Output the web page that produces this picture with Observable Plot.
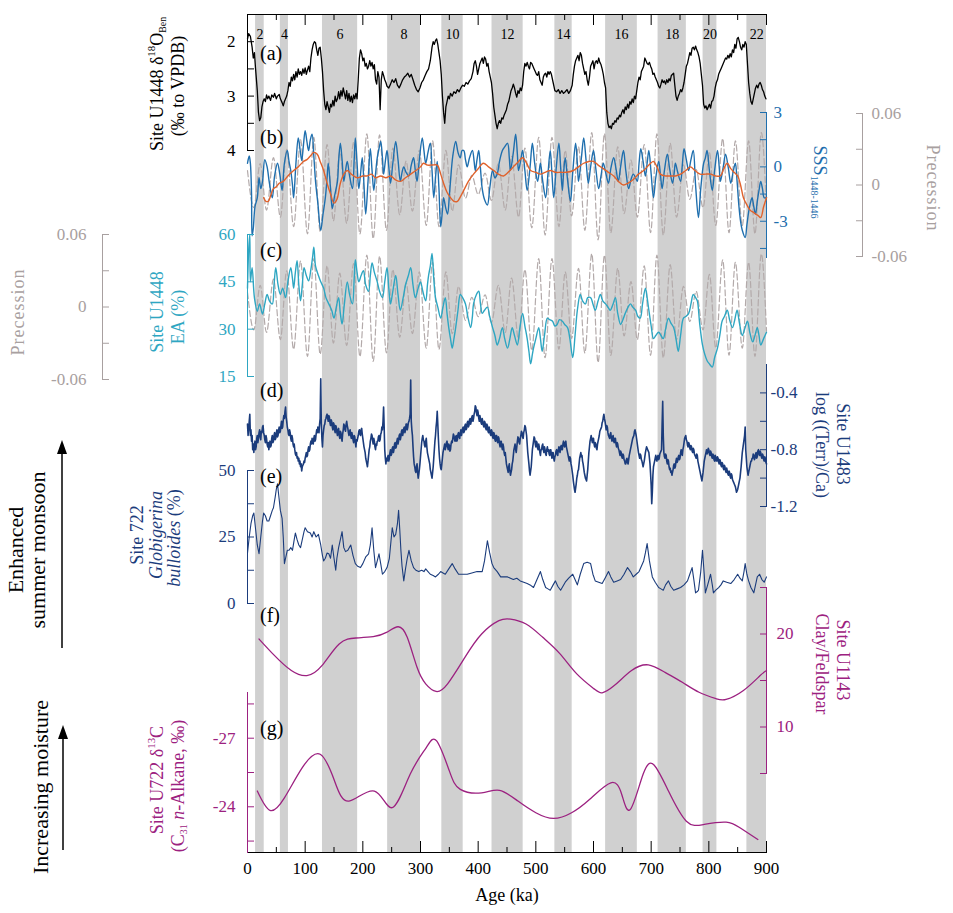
<!DOCTYPE html>
<html><head><meta charset="utf-8">
<script src="https://cdn.jsdelivr.net/npm/d3@7"></script>
<script src="https://cdn.jsdelivr.net/npm/@observablehq/plot@0.6"></script>
<style>
body{margin:0;background:#fff;}
#chart{position:relative;width:953px;height:913px;font-family:"Liberation Serif","Times New Roman",Times,serif;}
#chart > svg{position:absolute;left:0;top:0;overflow:visible;}
#chart text{font-family:"Liberation Serif","Times New Roman",Times,serif !important;}
</style></head><body><div id="chart"></div>
<script>
// ---------- DATA ----------
const misStage = [2,4,6,8,10,12,14,16,18,20,22];
const misStart = [14,57,130,243,337,424,533,621,712,790,866];
const misEnd   = [29,71,191,300,374,478,563,676,761,814,900];
const ageTicks = [0,100,200,300,400,500,600,700,800,900];
const ageMinor = [50,150,250,350,450,550,650,750,850];

// (a) Site U1448 benthic d18O  [age ka, permil]
const d18o = [[0,1.95],[2,1.85],[5,1.9],[8,2.1],[10,2.3],[12,2.2],[14,2.5],[17,2.9],[19,3.3],[21,3.45],[23,3.4],[25,3.2],[27,3.1],[29,3.05],[31,3.1],[33,2.98],[35,3.05],[37,3.0],[40,3.08],[42,2.98],[45,3.02],[47,2.95],[50,3.05],[52,3.0],[55,2.97],[57,3.05],[60,3.12],[62,3.18],[64,3.1],[66,3.05],[68,3.0],[70,2.9],[72,2.75],[74,2.82],[76,2.65],[78,2.72],[80,2.6],[82,2.7],[84,2.55],[86,2.65],[88,2.5],[90,2.6],[92,2.55],[94,2.62],[96,2.5],[98,2.58],[100,2.48],[102,2.6],[104,2.52],[106,2.45],[108,2.55],[110,2.3],[112,2.15],[114,2.05],[116,2.0],[118,2.02],[120,2.15],[122,2.25],[124,2.12],[126,2.1],[128,2.3],[130,2.55],[132,2.9],[134,3.15],[136,3.25],[138,3.1],[140,3.2],[142,3.3],[144,3.15],[146,3.2],[148,3.08],[150,3.18],[152,3.0],[154,3.1],[156,3.05],[158,2.92],[160,3.05],[162,2.9],[164,3.0],[166,2.85],[168,2.95],[170,3.05],[172,2.9],[174,3.08],[176,2.95],[178,3.1],[180,3.0],[182,3.12],[184,2.98],[186,3.05],[188,2.95],[190,3.05],[192,2.7],[194,2.3],[196,2.15],[198,2.22],[200,2.35],[202,2.3],[204,2.45],[206,2.4],[208,2.5],[210,2.45],[212,2.35],[214,2.45],[216,2.38],[218,2.5],[220,2.42],[222,2.7],[224,2.78],[226,2.55],[228,2.65],[230,3.25],[232,2.7],[234,2.55],[236,2.62],[238,2.7],[240,2.75],[242,2.82],[245,2.85],[248,2.78],[251,2.7],[254,2.75],[257,2.68],[260,2.8],[263,2.85],[266,2.78],[269,2.7],[272,2.65],[275,2.62],[278,2.58],[281,2.65],[284,2.6],[287,2.7],[290,2.8],[293,2.88],[296,2.92],[299,2.85],[302,2.75],[305,2.7],[308,2.62],[311,2.55],[314,2.5],[317,2.35],[320,2.1],[322,2.0],[324,2.05],[326,1.98],[328,1.95],[330,2.05],[332,2.2],[334,2.35],[336,2.6],[338,3.0],[340,3.3],[342,3.5],[344,3.2],[346,3.1],[348,3.0],[350,3.05],[352,2.95],[355,3.0],[358,2.92],[361,2.95],[364,2.88],[367,2.92],[370,2.85],[373,2.8],[376,2.82],[379,2.75],[382,2.78],[385,2.72],[388,2.68],[391,2.55],[393,2.4],[395,2.35],[397,2.45],[399,2.6],[401,2.5],[403,2.4],[405,2.35],[407,2.3],[409,2.4],[411,2.28],[413,2.32],[415,2.45],[417,2.4],[419,2.55],[421,2.65],[423,2.75],[425,2.95],[427,3.2],[429,3.35],[431,3.5],[433,3.6],[435,3.5],[437,3.45],[439,3.5],[441,3.4],[443,3.42],[445,3.35],[447,3.3],[449,3.25],[451,3.15],[453,3.1],[455,3.0],[457,2.9],[459,2.85],[461,2.78],[463,2.85],[465,2.95],[467,3.02],[469,2.9],[471,2.95],[473,2.85],[475,2.9],[477,2.8],[479,2.55],[481,2.4],[483,2.45],[485,2.38],[487,2.45],[489,2.5],[491,2.38],[493,2.4],[495,2.45],[497,2.5],[499,2.55],[501,2.6],[503,2.62],[505,2.55],[507,2.7],[509,2.75],[511,2.8],[513,2.65],[515,2.6],[517,2.58],[519,2.65],[521,2.55],[523,2.6],[525,2.55],[527,2.6],[530,2.75],[533,2.9],[536,2.92],[539,2.88],[542,2.95],[545,2.9],[548,2.95],[551,2.92],[554,2.88],[557,2.95],[560,2.9],[563,2.8],[565,2.6],[567,2.45],[569,2.35],[571,2.3],[573,2.25],[575,2.35],[577,2.2],[579,2.25],[581,2.4],[583,2.5],[585,2.6],[587,2.55],[589,2.7],[591,2.8],[593,2.65],[595,2.45],[597,2.4],[599,2.35],[601,2.5],[603,2.38],[605,2.35],[607,2.4],[609,2.3],[611,2.38],[613,2.42],[615,2.5],[617,2.6],[619,2.75],[621,2.85],[623,3.3],[625,3.5],[627,3.58],[629,3.55],[631,3.6],[633,3.5],[635,3.52],[637,3.45],[639,3.48],[641,3.4],[643,3.42],[645,3.35],[647,3.38],[649,3.3],[651,3.25],[653,3.32],[655,3.2],[657,3.25],[659,3.15],[661,3.22],[663,3.1],[665,3.15],[667,3.05],[669,3.12],[671,3.0],[673,3.05],[675,2.9],[677,2.75],[679,2.65],[681,2.7],[683,2.55],[685,2.5],[687,2.45],[689,2.3],[691,2.35],[693,2.4],[695,2.42],[697,2.38],[699,2.45],[701,2.5],[703,2.6],[705,2.58],[707,2.65],[709,2.7],[711,2.75],[713,2.82],[715,2.85],[717,2.78],[719,2.7],[721,2.75],[723,2.72],[725,2.78],[727,2.7],[729,2.75],[731,2.68],[733,2.72],[735,2.62],[737,2.6],[739,2.58],[741,2.8],[743,3.0],[745,3.08],[747,3.0],[749,2.95],[751,2.88],[753,2.92],[755,2.85],[757,2.75],[759,2.6],[761,2.45],[763,2.4],[765,2.3],[767,2.2],[769,2.25],[771,2.12],[773,2.1],[775,2.15],[777,2.08],[779,2.15],[781,2.2],[783,2.28],[785,2.4],[787,2.6],[789,2.8],[791,3.15],[793,3.22],[795,3.18],[797,3.25],[799,3.2],[801,3.15],[803,3.22],[805,3.1],[807,3.08],[809,3.0],[811,2.85],[813,2.75],[815,2.7],[817,2.6],[819,2.55],[821,2.5],[823,2.45],[825,2.4],[827,2.35],[829,2.3],[831,2.32],[833,2.25],[835,2.3],[837,2.22],[839,2.28],[841,2.15],[843,2.2],[845,2.05],[847,2.12],[849,1.95],[851,1.92],[853,2.0],[855,2.1],[857,2.15],[859,2.05],[861,2.1],[863,2.0],[865,2.05],[867,2.4],[869,2.75],[871,2.95],[873,3.1],[875,3.15],[877,3.05],[879,2.95],[881,2.85],[883,2.8],[885,2.85],[887,2.78],[889,2.75],[891,2.8],[893,2.88],[895,2.92],[897,3.0],[899,3.05]];

// (b) SSS 1448-1446 (blue) and smoothed record (orange)
const sss = [[0,0.2],[3,0.6],[5,0.2],[7,-1.5],[8,-3.8],[10,-3.4],[13,-2.2],[17,-1.7],[20,-0.6],[23,-1.2],[26,-0.8],[30,0.4],[34,0.0],[38,-0.9],[43,-1.7],[47,-0.5],[52,0.2],[56,-0.4],[60,-1.3],[64,0.2],[69,0.9],[72,0.3],[75,-0.2],[78,-1.0],[80,-1.7],[84,0.2],[88,1.6],[91,1.0],[94,0.35],[97,1.2],[100,2.0],[103,1.4],[106,0.9],[109,1.5],[112,1.8],[115,0.6],[118,-0.8],[122,-2.0],[127,-3.5],[131,-2.6],[135,-1.7],[138,-0.6],[140,0.2],[144,-1.2],[147,-2.3],[151,-1.6],[156,-0.8],[158,0.3],[161,1.3],[164,0.4],[167,-0.8],[170,-0.2],[173,0.3],[177,-0.5],[182,-1.2],[185,0.4],[187,1.6],[190,0.2],[193,-1.2],[196,-0.4],[199,0.5],[202,-1.0],[205,-2.6],[209,-0.8],[213,1.0],[216,-0.2],[219,-1.3],[222,-0.4],[225,0.5],[228,1.0],[231,1.4],[234,0.5],[236,-0.4],[239,0.3],[242,0.9],[245,0.0],[248,-0.9],[252,0.2],[257,1.4],[261,0.4],[265,-0.8],[268,-0.3],[271,0.0],[275,-0.3],[280,-0.5],[284,0.1],[288,0.5],[291,-0.2],[294,-0.8],[298,0.4],[303,1.6],[306,0.9],[309,0.2],[313,0.8],[317,1.3],[320,-0.2],[323,-1.7],[326,-0.6],[329,0.3],[332,-1.2],[335,-3.3],[338,-2.4],[340,-1.7],[344,-2.3],[347,-2.6],[350,-1.6],[352,-0.8],[356,0.6],[361,1.4],[365,0.8],[369,0.5],[372,0.9],[375,0.9],[378,0.4],[381,0.0],[385,0.5],[390,0.9],[393,0.3],[395,-0.2],[398,0.4],[401,0.9],[404,-0.1],[407,-1.2],[411,-1.8],[416,-2.1],[420,-1.2],[425,-0.2],[429,-0.6],[433,-0.4],[437,0.3],[442,0.9],[446,1.1],[451,1.3],[454,0.5],[456,-0.2],[461,0.8],[465,1.8],[468,0.7],[470,-0.2],[474,0.4],[477,0.9],[481,-0.2],[485,-1.3],[490,0.0],[494,1.3],[498,0.2],[503,-0.8],[506,-0.2],[508,0.2],[512,-0.8],[517,-1.7],[521,-0.4],[525,0.9],[528,-0.4],[531,-1.7],[535,-0.2],[540,1.3],[543,0.0],[546,-1.3],[548,-0.4],[551,0.5],[555,-0.7],[560,-1.9],[564,-0.3],[569,1.3],[572,0.2],[574,-0.8],[579,0.5],[583,1.6],[587,0.4],[591,-0.9],[595,0.0],[600,0.9],[604,-0.1],[609,-1.2],[613,-0.5],[617,0.2],[621,-0.3],[626,-0.9],[630,-0.1],[635,0.5],[639,-0.1],[643,-0.8],[647,0.0],[652,0.9],[656,-0.2],[661,-1.2],[665,-0.7],[669,-0.4],[673,-0.6],[676,-0.8],[679,0.2],[682,1.0],[686,0.3],[690,-0.5],[693,0.2],[696,0.9],[700,-0.4],[704,-1.7],[708,-0.6],[713,0.3],[716,-0.4],[719,-1.2],[723,-0.2],[728,0.7],[732,-0.1],[737,-0.9],[740,-0.3],[742,0.2],[746,-0.3],[751,-0.8],[754,0.1],[757,1.0],[761,0.4],[765,-0.2],[769,0.4],[773,0.9],[777,-1.0],[782,-2.8],[786,-1.2],[791,0.2],[794,0.5],[797,0.9],[801,-0.2],[806,-1.3],[810,-0.2],[815,0.9],[818,0.0],[820,-0.8],[825,0.0],[829,0.7],[834,-0.1],[838,-0.9],[842,-0.3],[846,0.2],[849,-0.8],[852,-2.1],[855,-3.0],[858,-3.5],[863,-3.9],[866,-3.2],[869,-2.5],[872,-2.0],[875,-1.7],[878,-2.2],[881,-2.6],[884,-1.9],[887,-1.3],[890,-0.8],[893,-1.2],[896,-1.7],[900,-1.7]];
const sssSmooth = [[28,-1.7],[32,-1.9],[36,-1.9],[40,-1.6],[45,-1.2],[50,-1.1],[55,-0.9],[62,-0.8],[70,-0.5],[80,-0.2],[88,0.0],[97,0.3],[103,0.4],[109,0.6],[115,0.8],[121,0.7],[126,0.3],[132,-0.2],[138,-0.9],[144,-1.5],[150,-2.0],[155,-1.8],[161,-0.9],[167,-0.4],[173,-0.2],[180,-0.4],[190,-0.6],[200,-0.5],[208,-0.5],[215,-0.4],[222,-0.6],[231,-0.5],[240,-0.6],[248,-0.5],[256,-0.7],[265,-0.8],[274,-0.6],[283,-0.4],[292,-0.2],[300,0.0],[305,0.2],[312,0.1],[320,0.1],[329,0.1],[335,-0.4],[340,-0.9],[346,-1.4],[352,-1.7],[358,-1.9],[364,-1.9],[370,-1.6],[375,-1.3],[383,-0.8],[392,-0.4],[400,-0.1],[409,0.2],[418,0.0],[427,-0.2],[435,-0.4],[444,-0.5],[452,-0.3],[461,0.0],[470,0.3],[477,0.5],[484,0.2],[491,-0.2],[500,-0.3],[508,-0.4],[516,-0.3],[525,-0.2],[534,-0.3],[543,-0.3],[553,-0.3],[565,-0.2],[574,0.0],[583,0.2],[592,0.3],[600,0.3],[608,0.1],[617,-0.1],[626,-0.3],[635,-0.5],[643,-0.8],[652,-1.0],[660,-0.9],[669,-0.7],[678,-0.4],[687,-0.2],[696,0.1],[704,0.3],[710,0.0],[716,-0.4],[725,-0.5],[733,-0.5],[742,-0.5],[751,-0.4],[760,-0.2],[768,0.0],[776,-0.2],[785,-0.4],[794,-0.4],[803,-0.4],[812,-0.5],[820,-0.5],[826,-0.1],[832,0.2],[838,-0.1],[844,-0.3],[850,-0.5],[855,-1.0],[860,-1.7],[866,-2.1],[872,-2.4],[877,-2.5],[881,-2.6],[886,-2.7],[890,-2.8],[895,-2.2],[900,-1.7]];

// Precession index (extremes, grey dashed in b and c)
const precession = [[0,0.012],[11,-0.019],[22,0.018],[33,-0.021],[45,0.023],[57,-0.027],[68,0.03],[80,-0.035],[92,0.038],[104,-0.041],[115,0.04],[126,-0.039],[138,0.034],[149,-0.03],[160,0.028],[172,-0.032],[184,0.036],[195,-0.041],[207,0.043],[218,-0.045],[229,0.042],[241,-0.038],[252,0.031],[264,-0.025],[275,0.02],[286,-0.022],[298,0.029],[310,-0.034],[321,0.037],[332,-0.035],[344,0.029],[355,-0.022],[366,0.017],[378,-0.011],[389,0.008],[400,-0.008],[412,0.01],[423,-0.013],[435,0.018],[447,-0.021],[458,0.024],[470,-0.027],[481,0.031],[493,-0.036],[505,0.04],[516,-0.042],[528,0.04],[540,-0.035],[551,0.029],[562,-0.026],[574,0.032],[585,-0.038],[597,0.044],[608,-0.046],[619,0.043],[630,-0.04],[642,0.032],[653,-0.024],[665,0.021],[676,-0.027],[688,0.034],[699,-0.04],[710,0.043],[721,-0.042],[733,0.035],[744,-0.027],[756,0.017],[767,-0.012],[778,0.013],[790,-0.019],[801,0.027],[812,-0.034],[824,0.039],[835,-0.04],[846,0.037],[858,-0.034],[869,0.037],[880,-0.041],[891,0.044],[900,-0.02]];

// (c) Site U1448 EA (%)
const ea = [[0,43],[2,55],[4,60],[5,45],[8,49.5],[12,40],[17,35.7],[21,38],[26,34.8],[30,38],[34,41],[38,39],[43,38],[46,44],[49,49.5],[53,44],[57,41],[61,43],[66,40],[70,45],[75,49.5],[78,46],[80,43],[83,48],[86,51.7],[89,44],[92,39],[95,44],[98,49.5],[102,47],[106,45.3],[110,49],[113,53],[115,56],[118,50],[123,47],[127,45],[132,43],[136,40],[141,38],[146,36],[150,33.5],[154,37],[158,40],[161,35],[164,31.6],[168,38],[173,45],[177,41],[182,38],[185,46],[187,52],[190,48],[193,45],[197,47],[201,48.5],[205,44],[210,42],[213,47],[216,51],[220,48],[225,45],[229,42],[234,40],[238,45],[242,49.5],[245,43],[248,38],[252,42],[257,47],[261,41],[265,36],[270,40],[274,44],[279,47],[283,49.5],[287,44],[291,40],[296,43],[300,45],[304,42],[309,39],[312,44],[314,47],[317,50],[320,54],[323,46],[326,40],[330,37],[335,33.5],[339,37],[343,40],[346,35],[349,30.5],[352,27],[355,24],[358,27],[361,30.5],[365,36],[369,41],[373,40],[378,38],[382,34],[387,30.5],[390,34],[392,38],[397,41],[401,42],[404,38],[407,35],[411,36],[416,37],[420,34],[425,30.5],[429,28],[433,25],[437,27],[442,30.5],[446,27],[451,24],[455,27],[459,30.5],[463,28],[468,25],[472,30],[477,35],[481,31],[485,27],[488,23],[491,19],[494,22],[496,24],[500,27],[505,30.5],[508,27],[511,23],[515,28],[520,33.5],[524,33],[529,32.5],[533,31],[537,31.5],[541,33],[546,32.5],[550,31.5],[555,30.5],[559,27],[564,21],[568,28],[572,36],[577,41],[581,39],[586,38],[590,40],[595,40],[599,38],[603,36],[608,39],[612,41],[616,39],[621,38],[625,37],[629,36],[634,38],[638,40],[642,35],[647,31.5],[651,33],[655,35],[660,37],[664,38],[668,37],[673,36],[677,34],[681,33.5],[685,38],[690,43],[693,40],[696,36],[700,31],[704,27],[708,28],[713,29],[717,28],[721,27],[725,30],[730,33.5],[734,32],[739,30.5],[743,27],[747,23],[751,28],[756,33.5],[760,34],[765,35],[769,38],[773,41],[777,40],[780,39],[784,32],[789,25],[793,22],[797,20],[801,19],[806,18],[810,21],[815,24],[819,28],[823,32.5],[827,34],[832,36],[836,33],[841,30.5],[845,33],[849,36],[853,32],[858,28],[862,30],[867,32.5],[871,29],[876,26],[880,28],[884,30.5],[887,28],[890,25],[895,27],[900,29]];

// (d) Site U1483 log(Terr/Ca)
const terrCa = [[0,-0.62],[1,-0.7],[2,-0.66],[3,-0.6],[4,-0.55],[5,-0.7],[6,-0.66],[7,-0.74],[8,-0.7],[9,-0.8],[10,-0.76],[11,-0.82],[12,-0.77],[13,-0.74],[14,-0.8],[15,-0.78],[16,-0.72],[17,-0.7],[18,-0.75],[19,-0.72],[20,-0.68],[21,-0.66],[22,-0.71],[23,-0.73],[24,-0.67],[25,-0.68],[26,-0.64],[27,-0.63],[28,-0.68],[29,-0.7],[30,-0.73],[31,-0.75],[32,-0.7],[33,-0.72],[34,-0.76],[35,-0.78],[36,-0.75],[37,-0.8],[38,-0.77],[39,-0.74],[40,-0.78],[41,-0.77],[42,-0.72],[43,-0.7],[44,-0.75],[45,-0.74],[46,-0.7],[47,-0.68],[48,-0.73],[49,-0.72],[50,-0.68],[51,-0.66],[52,-0.71],[53,-0.7],[54,-0.66],[55,-0.64],[56,-0.68],[57,-0.67],[58,-0.63],[59,-0.6],[60,-0.65],[61,-0.64],[62,-0.59],[63,-0.56],[64,-0.58],[65,-0.53],[66,-0.5],[67,-0.57],[68,-0.6],[69,-0.64],[70,-0.66],[71,-0.69],[72,-0.7],[73,-0.66],[74,-0.68],[75,-0.72],[76,-0.74],[77,-0.7],[78,-0.72],[79,-0.76],[80,-0.78],[81,-0.76],[82,-0.8],[83,-0.83],[84,-0.84],[85,-0.82],[86,-0.86],[87,-0.85],[88,-0.88],[89,-0.86],[90,-0.9],[91,-0.88],[92,-0.92],[93,-0.9],[94,-0.95],[95,-0.92],[96,-0.91],[97,-0.9],[98,-0.88],[99,-0.89],[100,-0.86],[101,-0.84],[102,-0.82],[103,-0.85],[104,-0.84],[105,-0.8],[106,-0.78],[107,-0.81],[108,-0.8],[109,-0.76],[110,-0.74],[111,-0.76],[112,-0.72],[113,-0.75],[114,-0.76],[115,-0.72],[116,-0.7],[117,-0.74],[118,-0.73],[119,-0.69],[120,-0.66],[121,-0.68],[122,-0.64],[123,-0.67],[124,-0.68],[125,-0.62],[126,-0.58],[127,-0.3],[128,-0.62],[129,-0.72],[130,-0.78],[131,-0.7],[132,-0.66],[133,-0.63],[134,-0.62],[135,-0.59],[136,-0.58],[137,-0.56],[138,-0.55],[139,-0.58],[140,-0.6],[141,-0.56],[142,-0.57],[143,-0.61],[144,-0.63],[145,-0.59],[146,-0.6],[147,-0.64],[148,-0.66],[149,-0.61],[150,-0.62],[151,-0.66],[152,-0.68],[153,-0.63],[154,-0.64],[155,-0.68],[156,-0.7],[157,-0.66],[158,-0.65],[159,-0.7],[160,-0.72],[161,-0.67],[162,-0.68],[163,-0.72],[164,-0.74],[165,-0.69],[166,-0.66],[167,-0.62],[168,-0.63],[169,-0.66],[170,-0.67],[171,-0.62],[172,-0.6],[173,-0.63],[174,-0.65],[175,-0.68],[176,-0.7],[177,-0.67],[178,-0.66],[179,-0.7],[180,-0.72],[181,-0.68],[182,-0.7],[183,-0.73],[184,-0.75],[185,-0.7],[186,-0.71],[187,-0.75],[188,-0.78],[189,-0.73],[190,-0.74],[191,-0.72],[192,-0.7],[193,-0.67],[194,-0.66],[195,-0.69],[196,-0.7],[197,-0.66],[198,-0.65],[199,-0.69],[200,-0.72],[201,-0.75],[202,-0.78],[203,-0.8],[204,-0.82],[205,-0.86],[206,-0.88],[207,-0.9],[208,-0.92],[209,-0.88],[210,-0.84],[211,-0.8],[212,-0.78],[213,-0.74],[214,-0.72],[215,-0.69],[216,-0.7],[217,-0.74],[218,-0.76],[219,-0.72],[220,-0.74],[221,-0.78],[222,-0.8],[223,-0.76],[224,-0.77],[225,-0.74],[226,-0.74],[227,-0.71],[228,-0.7],[229,-0.74],[230,-0.73],[231,-0.69],[232,-0.68],[233,-0.64],[234,-0.66],[235,-0.6],[236,-0.5],[237,-0.64],[238,-0.8],[239,-0.86],[240,-0.9],[241,-0.86],[242,-0.88],[243,-0.85],[244,-0.84],[245,-0.88],[246,-0.86],[247,-0.82],[248,-0.8],[249,-0.84],[250,-0.83],[251,-0.79],[252,-0.78],[253,-0.82],[254,-0.8],[255,-0.76],[256,-0.75],[257,-0.79],[258,-0.78],[259,-0.74],[260,-0.72],[261,-0.76],[262,-0.74],[263,-0.7],[264,-0.69],[265,-0.73],[266,-0.71],[267,-0.67],[268,-0.66],[269,-0.7],[270,-0.68],[271,-0.65],[272,-0.64],[273,-0.68],[274,-0.66],[275,-0.62],[276,-0.62],[277,-0.66],[278,-0.64],[279,-0.61],[280,-0.6],[281,-0.58],[282,-0.55],[283,-0.31],[284,-0.6],[285,-0.66],[286,-0.7],[287,-0.78],[288,-0.85],[289,-0.9],[290,-0.92],[291,-0.95],[292,-0.96],[293,-0.92],[294,-0.9],[295,-0.96],[296,-1.0],[297,-0.97],[298,-0.94],[299,-0.9],[300,-0.85],[301,-0.8],[302,-0.75],[303,-0.72],[304,-0.7],[305,-0.73],[306,-0.74],[307,-0.77],[308,-0.78],[309,-0.74],[310,-0.72],[311,-0.78],[312,-0.82],[313,-0.84],[314,-0.86],[315,-0.88],[316,-0.9],[317,-0.94],[318,-0.96],[319,-0.98],[320,-1.0],[321,-0.96],[322,-0.92],[323,-0.86],[324,-0.8],[325,-0.74],[326,-0.7],[327,-0.64],[328,-0.6],[329,-0.53],[330,-0.62],[331,-0.72],[332,-0.8],[333,-0.86],[334,-0.9],[335,-0.93],[336,-0.94],[337,-0.9],[338,-0.86],[339,-0.82],[340,-0.8],[341,-0.78],[342,-0.76],[343,-0.8],[344,-0.78],[345,-0.75],[346,-0.74],[347,-0.78],[348,-0.8],[349,-0.76],[350,-0.77],[351,-0.81],[352,-0.8],[353,-0.76],[354,-0.74],[355,-0.75],[356,-0.72],[357,-0.69],[358,-0.7],[359,-0.73],[360,-0.74],[361,-0.71],[362,-0.7],[363,-0.74],[364,-0.73],[365,-0.69],[366,-0.68],[367,-0.71],[368,-0.72],[369,-0.68],[370,-0.66],[371,-0.7],[372,-0.68],[373,-0.65],[374,-0.64],[375,-0.68],[376,-0.67],[377,-0.63],[378,-0.62],[379,-0.66],[380,-0.65],[381,-0.61],[382,-0.6],[383,-0.64],[384,-0.63],[385,-0.59],[386,-0.58],[387,-0.62],[388,-0.6],[389,-0.57],[390,-0.56],[391,-0.6],[392,-0.58],[393,-0.55],[394,-0.53],[395,-0.49],[396,-0.5],[397,-0.54],[398,-0.56],[399,-0.52],[400,-0.54],[401,-0.58],[402,-0.6],[403,-0.56],[404,-0.58],[405,-0.61],[406,-0.62],[407,-0.58],[408,-0.6],[409,-0.63],[410,-0.64],[411,-0.6],[412,-0.61],[413,-0.65],[414,-0.66],[415,-0.62],[416,-0.63],[417,-0.67],[418,-0.68],[419,-0.64],[420,-0.66],[421,-0.69],[422,-0.7],[423,-0.66],[424,-0.67],[425,-0.71],[426,-0.72],[427,-0.68],[428,-0.69],[429,-0.73],[430,-0.74],[431,-0.7],[432,-0.7],[433,-0.74],[434,-0.75],[435,-0.71],[436,-0.72],[437,-0.76],[438,-0.78],[439,-0.74],[440,-0.74],[441,-0.78],[442,-0.8],[443,-0.76],[444,-0.78],[445,-0.82],[446,-0.84],[447,-0.82],[448,-0.86],[449,-0.9],[450,-0.92],[451,-0.94],[452,-0.96],[453,-0.92],[454,-0.9],[455,-0.95],[456,-0.98],[457,-0.96],[458,-0.94],[459,-0.9],[460,-0.88],[461,-0.84],[462,-0.8],[463,-0.78],[464,-0.76],[465,-0.8],[466,-0.82],[467,-0.78],[468,-0.74],[469,-0.71],[470,-0.72],[471,-0.75],[472,-0.76],[473,-0.72],[474,-0.7],[475,-0.67],[476,-0.68],[477,-0.71],[478,-0.72],[479,-0.68],[480,-0.66],[481,-0.63],[482,-0.64],[483,-0.67],[484,-0.7],[485,-0.76],[486,-0.82],[487,-0.86],[488,-0.9],[489,-0.95],[490,-0.98],[491,-0.95],[492,-0.92],[493,-0.86],[494,-0.8],[495,-0.77],[496,-0.74],[497,-0.71],[498,-0.72],[499,-0.76],[500,-0.78],[501,-0.74],[502,-0.75],[503,-0.79],[504,-0.8],[505,-0.76],[506,-0.78],[507,-0.82],[508,-0.84],[509,-0.8],[510,-0.8],[511,-0.77],[512,-0.76],[513,-0.8],[514,-0.82],[515,-0.78],[516,-0.8],[517,-0.83],[518,-0.84],[519,-0.8],[520,-0.78],[521,-0.81],[522,-0.8],[523,-0.83],[524,-0.84],[525,-0.8],[526,-0.8],[527,-0.84],[528,-0.86],[529,-0.82],[530,-0.82],[531,-0.86],[532,-0.88],[533,-0.85],[534,-0.84],[535,-0.81],[536,-0.8],[537,-0.83],[538,-0.84],[539,-0.8],[540,-0.78],[541,-0.81],[542,-0.82],[543,-0.78],[544,-0.77],[545,-0.8],[546,-0.8],[547,-0.76],[548,-0.74],[549,-0.77],[550,-0.78],[551,-0.75],[552,-0.74],[553,-0.78],[554,-0.8],[555,-0.82],[556,-0.84],[557,-0.86],[558,-0.88],[559,-0.85],[560,-0.86],[561,-0.9],[562,-0.92],[563,-0.95],[564,-0.98],[565,-1.02],[566,-1.05],[567,-1.08],[568,-1.1],[569,-1.07],[570,-1.04],[571,-1.0],[572,-0.98],[573,-0.95],[574,-0.94],[575,-0.9],[576,-0.86],[577,-0.84],[578,-0.82],[579,-0.85],[580,-0.84],[581,-0.88],[582,-0.9],[583,-0.93],[584,-0.96],[585,-0.98],[586,-1.0],[587,-1.01],[588,-1.02],[589,-0.98],[590,-0.94],[591,-0.88],[592,-0.82],[593,-0.78],[594,-0.74],[595,-0.72],[596,-0.7],[597,-0.73],[598,-0.75],[599,-0.72],[600,-0.72],[601,-0.76],[602,-0.78],[603,-0.75],[604,-0.76],[605,-0.79],[606,-0.8],[607,-0.76],[608,-0.74],[609,-0.72],[610,-0.7],[611,-0.67],[612,-0.66],[613,-0.65],[614,-0.64],[615,-0.61],[616,-0.6],[617,-0.57],[618,-0.55],[619,-0.58],[620,-0.6],[621,-0.63],[622,-0.66],[623,-0.63],[624,-0.64],[625,-0.68],[626,-0.7],[627,-0.71],[628,-0.72],[629,-0.69],[630,-0.68],[631,-0.72],[632,-0.74],[633,-0.71],[634,-0.7],[635,-0.74],[636,-0.75],[637,-0.72],[638,-0.72],[639,-0.76],[640,-0.78],[641,-0.75],[642,-0.76],[643,-0.79],[644,-0.8],[645,-0.82],[646,-0.84],[647,-0.81],[648,-0.82],[649,-0.85],[650,-0.86],[651,-0.83],[652,-0.84],[653,-0.87],[654,-0.88],[655,-0.9],[656,-0.9],[657,-0.87],[658,-0.86],[659,-0.89],[660,-0.9],[661,-0.87],[662,-0.84],[663,-0.82],[664,-0.8],[665,-0.78],[666,-0.76],[667,-0.74],[668,-0.72],[669,-0.71],[670,-0.7],[671,-0.67],[672,-0.66],[673,-0.68],[674,-0.7],[675,-0.73],[676,-0.76],[677,-0.79],[678,-0.82],[679,-0.84],[680,-0.86],[681,-0.83],[682,-0.84],[683,-0.87],[684,-0.88],[685,-0.9],[686,-0.92],[687,-0.9],[688,-0.88],[689,-0.85],[690,-0.82],[691,-0.8],[692,-0.78],[693,-0.79],[694,-0.8],[695,-0.81],[696,-0.82],[697,-0.86],[698,-0.9],[699,-0.97],[700,-1.05],[701,-1.18],[702,-1.1],[703,-0.98],[704,-0.92],[705,-0.9],[706,-0.88],[707,-0.86],[708,-0.84],[709,-0.87],[710,-0.88],[711,-0.85],[712,-0.84],[713,-0.87],[714,-0.86],[715,-0.83],[716,-0.82],[717,-0.81],[718,-0.8],[719,-0.62],[720,-0.46],[721,-0.7],[722,-0.82],[723,-0.85],[724,-0.86],[725,-0.83],[726,-0.84],[727,-0.88],[728,-0.9],[729,-0.87],[730,-0.88],[731,-0.92],[732,-0.94],[733,-0.93],[734,-0.96],[735,-0.95],[736,-0.98],[737,-0.96],[738,-0.94],[739,-0.91],[740,-0.9],[741,-0.93],[742,-0.92],[743,-0.88],[744,-0.86],[745,-0.89],[746,-0.88],[747,-0.85],[748,-0.84],[749,-0.87],[750,-0.86],[751,-0.82],[752,-0.8],[753,-0.83],[754,-0.84],[755,-0.8],[756,-0.78],[757,-0.75],[758,-0.72],[759,-0.71],[760,-0.7],[761,-0.73],[762,-0.74],[763,-0.77],[764,-0.78],[765,-0.75],[766,-0.76],[767,-0.79],[768,-0.8],[769,-0.77],[770,-0.78],[771,-0.81],[772,-0.82],[773,-0.79],[774,-0.8],[775,-0.83],[776,-0.84],[777,-0.85],[778,-0.86],[779,-0.83],[780,-0.84],[781,-0.88],[782,-0.9],[783,-0.92],[784,-0.94],[785,-0.96],[786,-0.98],[787,-1.0],[788,-1.02],[789,-0.99],[790,-0.96],[791,-0.92],[792,-0.88],[793,-0.86],[794,-0.84],[795,-0.82],[796,-0.8],[797,-0.83],[798,-0.82],[799,-0.79],[800,-0.8],[801,-0.83],[802,-0.84],[803,-0.81],[804,-0.82],[805,-0.85],[806,-0.86],[807,-0.83],[808,-0.84],[809,-0.87],[810,-0.88],[811,-0.84],[812,-0.85],[813,-0.88],[814,-0.88],[815,-0.85],[816,-0.86],[817,-0.89],[818,-0.9],[819,-0.87],[820,-0.88],[821,-0.91],[822,-0.92],[823,-0.89],[824,-0.9],[825,-0.93],[826,-0.94],[827,-0.91],[828,-0.92],[829,-0.95],[830,-0.96],[831,-0.93],[832,-0.95],[833,-0.97],[834,-0.98],[835,-0.95],[836,-0.96],[837,-0.99],[838,-1.0],[839,-0.97],[840,-0.98],[841,-1.01],[842,-1.02],[843,-1.03],[844,-1.04],[845,-1.05],[846,-1.06],[847,-1.08],[848,-1.1],[849,-1.09],[850,-1.08],[851,-1.06],[852,-1.04],[853,-1.02],[854,-1.0],[855,-0.96],[856,-0.92],[857,-0.87],[858,-0.82],[859,-0.79],[860,-0.76],[861,-0.73],[862,-0.7],[863,-0.64],[864,-0.8],[865,-0.86],[866,-0.92],[867,-0.95],[868,-0.98],[869,-0.96],[870,-0.94],[871,-0.92],[872,-0.9],[873,-0.88],[874,-0.88],[875,-0.86],[876,-0.86],[877,-0.83],[878,-0.84],[879,-0.87],[880,-0.86],[881,-0.83],[882,-0.82],[883,-0.86],[884,-0.85],[885,-0.81],[886,-0.8],[887,-0.83],[888,-0.84],[889,-0.81],[890,-0.82],[891,-0.85],[892,-0.86],[893,-0.83],[894,-0.84],[895,-0.87],[896,-0.88],[897,-0.85],[898,-0.86],[899,-0.89],[900,-0.9]];

// (e) Site 722 Globigerina bulloides (%)
const bulloides = [[0,19],[3,25],[6,30],[9,33],[11,34],[14,28],[17,22],[20,18.7],[23,25],[26,31],[28,34],[31,33],[34,31],[37,31],[40,33],[43,35],[45,36],[48,40],[50,43],[52,45],[54,41],[56,37],[57,35],[60,32],[62,25],[64,15],[66,17],[69,20],[72,20],[75,21],[78,20],[81,24],[83,26.5],[86,24],[89,22],[92,21],[95,24],[98,27],[100,28.5],[104,27],[109,26.5],[112,25],[115,27],[119,25],[123,26],[127,22],[130,18],[132,16],[135,17],[138,19],[141,18.7],[144,17],[147,22],[150,17],[153,12.5],[155,17],[158,21],[161,24],[164,27],[167,21],[170,19.5],[174,20],[179,22],[183,18],[187,15],[191,14],[196,13.5],[200,15],[205,17.5],[210,18.7],[213,22],[216,28.5],[219,20],[222,13.5],[225,16],[228,18.7],[231,15],[234,11],[238,12],[242,13.5],[246,17],[251,28.5],[254,25],[257,26],[260,30],[262,35],[264,28],[266,20],[268,14],[271,8.5],[274,13],[277,17],[280,20],[284,16],[288,13.5],[292,12.5],[297,12],[302,12.5],[306,12],[309,13],[313,12],[317,11],[322,10.5],[326,10],[331,11],[335,12],[339,11.5],[343,11],[349,13],[355,15],[360,13],[366,11],[373,11],[381,11],[389,11.5],[398,12],[403,12],[407,12],[411,16],[416,23.6],[420,19],[424,15],[427,13.5],[433,12],[439,10],[445,10],[451,10],[456,9.5],[461,9],[467,9.5],[473,8.5],[479,8],[485,7.5],[490,7],[496,6],[502,9],[508,12],[512,9],[517,6],[521,5.5],[525,5],[530,7],[534,8.5],[538,6.5],[543,5],[547,6.5],[551,8],[557,9.5],[564,11],[568,9],[572,7],[577,11],[583,15],[589,15.5],[595,15],[599,11],[603,8.5],[609,8],[615,7.5],[620,9.5],[626,12],[630,10],[635,8],[641,8.5],[647,9],[653,11],[659,13.5],[664,12],[669,10],[674,11],[679,12],[683,14],[687,16],[690,19],[693,22.5],[697,16],[702,10],[707,8],[713,6],[717,5.5],[721,5],[725,7],[730,8.5],[734,6.5],[739,5],[745,5.5],[751,6],[757,7],[763,8.5],[767,11],[771,13.5],[774,9],[777,4],[780,4.5],[782,5],[786,12],[789,20],[792,11],[794,4],[798,7],[803,11],[806,7],[808,4],[812,5],[817,6],[821,7],[825,8.5],[831,8],[838,7.5],[844,9],[850,11],[854,9.5],[858,8.5],[861,12],[863,15],[866,11],[869,8.5],[873,6],[878,4],[881,7],[884,10],[888,11],[892,9],[896,8],[900,10]];

// (f) Site U1143 Clay/Feldspar
const clayFeldspar = [[20,19.46],[47,17.67],[76,16.07],[103,15.53],[129,16.6],[159,18.93],[188,19.57],[218,19.71],[241,20.17],[261,20.78],[277,19.64],[294,16.42],[309,14.64],[327,13.82],[347,14.64],[377,17.49],[406,20.0],[436,21.43],[456,21.6],[483,21.07],[512,19.64],[542,17.86],[571,15.71],[601,14.1],[615,13.68],[636,14.46],[666,16.07],[695,16.68],[724,15.88],[754,14.81],[783,13.74],[813,13.03],[830,12.96],[860,13.93],[889,15.53],[900,16.07]];

// (g) Site U722 d13C C31 n-alkane
const d13c = [[17,-24.69],[39,-23.84],[64,-24.39],[95,-25.71],[126,-26.3],[151,-25.13],[176,-24.25],[220,-24.69],[251,-23.96],[282,-25.42],[310,-26.59],[328,-26.88],[350,-25.57],[369,-24.76],[406,-24.61],[437,-24.72],[469,-24.25],[500,-23.74],[531,-23.49],[562,-23.74],[593,-24.32],[630,-25.05],[649,-24.54],[664,-23.89],[686,-25.42],[705,-25.83],[730,-24.69],[761,-23.37],[792,-23.23],[830,-23.33],[854,-23.08],[885,-22.57]];

// axis tick values and labels
const aTicks = [2,2.5,3,3.5,4], aLabels = [2,3,4];
const sssTicks = [-4.5,-3,-1.5,0,1.5,3], sssLabels = [-3,0,3];
const precTicks = [-0.06,-0.03,0,0.03,0.06], precLabels = [-0.06,0,0.06];
const eaTicks = [15,30,45,60], eaLabels = [15,30,45,60];
const dTicks = [-1.2,-1.0,-0.8,-0.6,-0.4], dLabels = [-1.2,-0.8,-0.4];
const eTicks = [0,12.5,25,37.5,50], eLabels = [0,25,50];
const fTicks = [5,10,15,20,25], fLabels = [10,20];
const gTicks = [-28.5,-27,-25.5,-24,-22.5], gLabels = [-27,-24];

// ---------- STYLE ----------
const W = 953, H = 913;
const FONT = "'Liberation Serif', 'Times New Roman', Times, serif";
const C = {black:"#000", blue:"#1f6fae", orange:"#e0622c", prec:"#b3aaaa", precAxis:"#a8a0a0",
           teal:"#2ea6c2", navy:"#1b3c7c", purple:"#9c2180", bar:"#d0d0d0"};
const X = {domain:[0,900], range:[247,766], axis:null};
const fmt = d => String(d);

function yAxis(anchor, ticks, labels, color, pad) {
  const len = 7;
  return [
    Plot.frame({anchor, stroke: color}),
    Plot.axisY({anchor, ticks, tickSize: len, dx: anchor === "left" ? len : -len, fill: "none", stroke: color, label: null}),
    Plot.axisY({anchor, ticks: labels, tickSize: 0, tickPadding: pad, tickFormat: fmt, fill: color, fontSize: 17, label: null})
  ];
}
function panel({top, bottom, left = 247, right = 187, y, marks}) {
  return Plot.plot({
    width: W, height: H, marginTop: top, marginBottom: H - bottom, marginLeft: left, marginRight: right,
    x: X, y: {axis: null, ...y},
    style: {background: "transparent", fontFamily: FONT, fontSize: "17px", overflow: "visible"},
    marks
  });
}
const xa = d => d[0], ya = d => d[1];
const mis = misStage.map((s, i) => ({stage: String(s), start: misStart[i], end: misEnd[i]}));

const chart = document.getElementById("chart");
const plots = [];

// base: glacial bars, top and bottom age axes
plots.push(Plot.plot({
  width: W, height: H, marginTop: 14, marginBottom: H - 852, marginLeft: 247, marginRight: 187,
  x: X, style: {background: "transparent", fontFamily: FONT, overflow: "visible"},
  marks: [
    Plot.rect(mis, {x1: "start", x2: "end", fill: C.bar}),
    Plot.frame({anchor: "top", stroke: C.black}),
    Plot.frame({anchor: "bottom", stroke: C.black}),
    Plot.axisX({anchor: "bottom", ticks: ageTicks, tickSize: 11, dy: -11, fill: "none", label: null}),
    Plot.axisX({anchor: "bottom", ticks: ageMinor, tickSize: 5, dy: -5, fill: "none", label: null}),
    Plot.axisX({anchor: "bottom", ticks: ageTicks, tickSize: 0, tickPadding: 9, tickFormat: fmt, fontSize: 17, label: null}),
    Plot.axisX({anchor: "top", ticks: ageTicks, tickSize: 10, dy: 10, fill: "none", label: null}),
    Plot.axisX({anchor: "top", ticks: ageMinor, tickSize: 5, dy: 5, fill: "none", label: null}),
    Plot.text(mis, {x: d => (d.start + d.end) / 2, frameAnchor: "top", dy: 15, text: "stage", fontSize: 14})
  ]
}));

// (a)
plots.push(panel({top: 14, bottom: 150, y: {domain: [1.5, 4], reverse: true}, marks: [
  ...yAxis("left", aTicks, aLabels, C.black, 12),
  Plot.line(d18o, {x: xa, y: ya, stroke: C.black, strokeWidth: 1.3})
]}));
// (b) precession (right axis at 862)
plots.push(panel({top: 113, bottom: 256, right: W - 862, y: {domain: [-0.06, 0.06]}, marks: [
  ...yAxis("right", precTicks, precLabels, C.precAxis, 9),
  Plot.line(precession, {x: xa, y: ya, stroke: C.prec, strokeWidth: 1.2, strokeDasharray: "6,3", curve: "monotone-x"})
]}));
// (b) SSS
plots.push(panel({top: 112, bottom: 257, y: {domain: [-5, 3]}, marks: [
  ...yAxis("right", sssTicks, sssLabels, C.blue, 7),
  Plot.line(sss, {x: xa, y: ya, stroke: C.blue, strokeWidth: 1.4, curve: "catmull-rom"}),
  Plot.line(sssSmooth, {x: xa, y: ya, stroke: C.orange, strokeWidth: 1.4, curve: "catmull-rom"})
]}));
// (c) precession (left axis at 102)
plots.push(panel({top: 234, bottom: 379, left: 102, y: {domain: [-0.06, 0.06]}, marks: [
  ...yAxis("left", precTicks, precLabels, C.precAxis, 16),
  Plot.line(precession, {x: xa, y: ya, stroke: C.prec, strokeWidth: 1.2, strokeDasharray: "6,3", curve: "monotone-x"})
]}));
// (c) EA
plots.push(panel({top: 234, bottom: 376, y: {domain: [15, 60]}, marks: [
  ...yAxis("left", eaTicks, eaLabels, C.teal, 12),
  Plot.line(ea, {x: xa, y: ya, stroke: C.teal, strokeWidth: 1.4, curve: "catmull-rom"})
]}));
// (d)
plots.push(panel({top: 364, bottom: 506, y: {domain: [-1.2, -0.2]}, marks: [
  ...yAxis("right", dTicks, dLabels, C.navy, 4),
  Plot.line(terrCa, {x: xa, y: ya, stroke: C.navy, strokeWidth: 1.6})
]}));
// (e)
plots.push(panel({top: 470, bottom: 603, y: {domain: [0, 50]}, marks: [
  ...yAxis("left", eTicks, eLabels, C.navy, 12),
  Plot.line(bulloides, {x: xa, y: ya, stroke: C.navy, strokeWidth: 1.1})
]}));
// (f)
plots.push(panel({top: 587, bottom: 773, y: {domain: [5, 25]}, marks: [
  ...yAxis("right", fTicks, fLabels, C.purple, 10),
  Plot.line(clayFeldspar, {x: xa, y: ya, stroke: C.purple, strokeWidth: 1.3, curve: "natural"})
]}));
// (g)
plots.push(panel({top: 692, bottom: 852, y: {domain: [-29, -22], reverse: true}, marks: [
  ...yAxis("left", gTicks, gLabels, C.purple, 12),
  Plot.line(d13c, {x: xa, y: ya, stroke: C.purple, strokeWidth: 1.3, curve: "natural"})
]}));

plots.forEach(p => chart.appendChild(p));

// ---------- ANNOTATIONS (titles, panel letters, arrows) ----------
const svg = d3.select(chart).append("svg").attr("width", W).attr("height", H)
  .style("font-family", FONT);

function label(x, y, rot, color, parts, size = 18, spacing = 0) {
  const t = svg.append("text")
    .attr("transform", `translate(${x},${y}) rotate(${rot})`)
    .attr("text-anchor", "middle").attr("dominant-baseline", "central")
    .attr("fill", color).attr("font-size", size);
  if (spacing) t.attr("letter-spacing", spacing);
  for (const p of parts) {
    const s = t.append("tspan").text(p.t);
    if (p.sup) s.attr("baseline-shift", "super").attr("font-size", size * 0.6);
    if (p.sub) s.attr("baseline-shift", "sub").attr("font-size", size * 0.55);
    if (p.it) s.attr("font-style", "italic");
  }
}

// left titles (reading upward)
label(157, 84, -90, C.black, [{t: "Site U1448 δ"}, {t: "18", sup: true}, {t: "O"}, {t: "Ben", sub: true}]);
label(178, 86, -90, C.black, [{t: "(‰ to VPDB)"}]);
label(18, 312, -90, C.precAxis, [{t: "Precession"}], 18, 1);
label(157, 312, -90, C.teal, [{t: "Site U1448"}]);
label(178, 317, -90, C.teal, [{t: "EA (%)"}]);
label(137, 535, -90, C.navy, [{t: "Site 722"}]);
label(156, 535, -90, C.navy, [{t: "Globigerina", it: true}]);
label(174, 538, -90, C.navy, [{t: "bulloides", it: true}, {t: " (%)"}]);
label(157, 780, -90, C.purple, [{t: "Site U722 δ"}, {t: "13", sup: true}, {t: "C"}]);
label(178, 786, -90, C.purple, [{t: "(C"}, {t: "31", sub: true}, {t: " "}, {t: "n", it: true}, {t: "-Alkane, ‰)"}]);

// right titles (reading downward)
label(820, 182, 90, C.blue, [{t: "SSS"}, {t: "1448-1446", sub: true}]);
label(933, 188, 90, C.precAxis, [{t: "Precession"}], 18, 1);
label(843, 444, 90, C.navy, [{t: "Site U1483"}]);
label(822, 445, 90, C.navy, [{t: "log ((Terr)/Ca)"}]);
label(843, 660, 90, C.purple, [{t: "Site U1143"}]);
label(822, 664, 90, C.purple, [{t: "Clay/Feldspar"}]);

// big side annotations
label(15, 550, -90, C.black, [{t: "Enhanced"}], 22);
label(37, 550, -90, C.black, [{t: "summer monsoon"}], 22);
label(40, 787, -90, C.black, [{t: "Increasing moisture"}], 22);

// panel letters
[["(a)", 53], ["(b)", 137], ["(c)", 250], ["(d)", 390], ["(e)", 476], ["(f)", 615], ["(g)", 728]].forEach(([s, y]) => {
  svg.append("text").attr("x", 260).attr("y", y).attr("dominant-baseline", "central")
    .attr("font-size", 20).attr("fill", "#000").text(s);
});

// x-axis title
svg.append("text").attr("x", 507).attr("y", 895).attr("text-anchor", "middle")
  .attr("dominant-baseline", "central").attr("font-size", 18).text("Age (ka)");

// arrows
function arrow(x, y0, y1) {
  svg.append("line").attr("x1", x).attr("x2", x).attr("y1", y0).attr("y2", y1 + 10)
    .attr("stroke", "#000").attr("stroke-width", 1.5);
  svg.append("path").attr("d", `M${x},${y1} L${x - 5},${y1 + 14} L${x + 5},${y1 + 14} Z`).attr("fill", "#000");
}
arrow(62, 648, 440);
arrow(63, 850, 725);
</script>
</body></html>
